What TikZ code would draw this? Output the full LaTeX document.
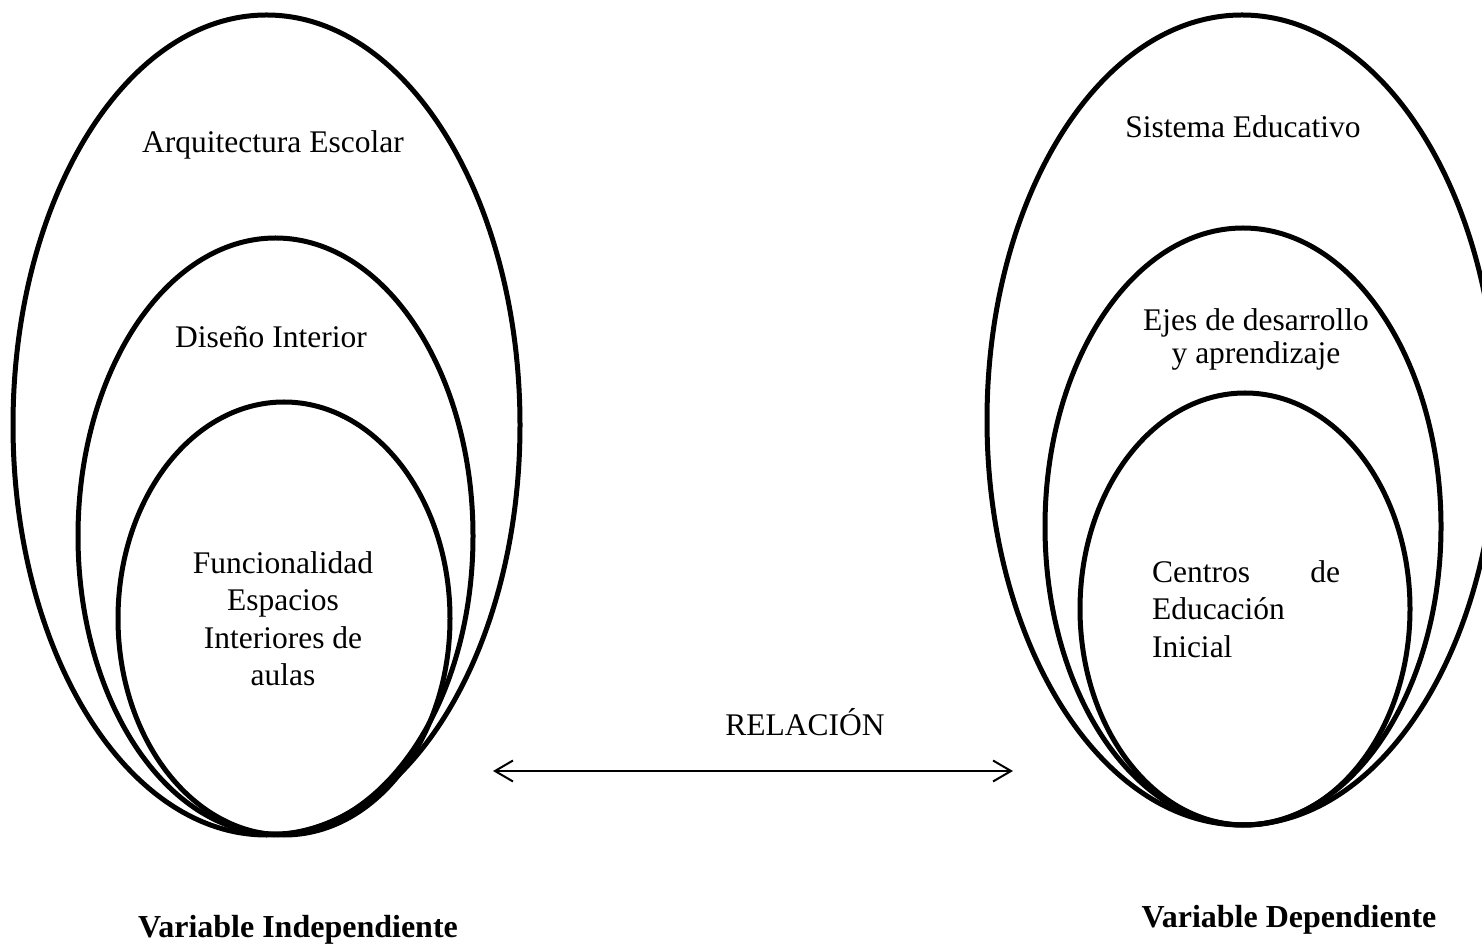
\documentclass[tikz,border=0pt]{standalone}
\usepackage{fontspec}
\setmainfont{Liberation Serif}
\usetikzlibrary{shapes.geometric,arrows.meta}
\begin{document}
\begin{tikzpicture}[x=0.5pt,y=-0.5pt,
  ring/.style={draw=black,line width=2.5pt,ellipse,inner sep=0pt},
  lbl/.style={font=\fontsize{15.75pt}{18.75pt}\selectfont,inner sep=0pt,align=center},
  varlbl/.style={font=\fontsize{16pt}{19pt}\selectfont\bfseries,inner sep=0pt},
  relarrow/.style={line width=1pt,
    {Straight Barb[length=9pt,width=10.5pt]}-{Straight Barb[length=9pt,width=10.5pt]}}]
\useasboundingbox (0,0) rectangle (1482,945);

% independent variable: nested ellipses
\node[ring,minimum width=253.5pt,minimum height=410pt] (arq) at (266.5,425) {};
\node[ring,minimum width=197.5pt,minimum height=298pt] (dis) at (275.5,536) {};
\node[ring,minimum width=166pt,minimum height=216.5pt] (fun) at (284,618.5) {};

\node[lbl,anchor=base] (arqT) at (273,153) {Arquitectura Escolar};
\node[lbl,anchor=base] (disT) at (271,348) {Diseño Interior};
\node[lbl] (funT) at (283,618.5) {Funcionalidad\\Espacios\\Interiores de\\aulas};

% dependent variable: nested ellipses
\node[ring,minimum width=255pt,minimum height=405pt] (sis) at (1242,420) {};
\node[ring,minimum width=198pt,minimum height=298.5pt] (eje) at (1243,526.5) {};
\node[ring,minimum width=165pt,minimum height=216pt] (cen) at (1245,609) {};

\node[lbl,anchor=base] (sisT) at (1243,138) {Sistema Educativo};
\node[lbl,font=\fontsize{15.75pt}{16.5pt}\selectfont] (ejeT) at (1256,339) {Ejes de desarrollo\\y aprendizaje};
\node[lbl,align=left,text width=94pt] (cenT) at (1246,609) {Centros\hfill de\\Educación\\Inicial};

% relation between both variables
\coordinate (aL) at (493,771);
\coordinate (aR) at (1013,771);
\draw[relarrow] (aL) -- (aR);
\node[lbl,anchor=base] (rel) at (805,735) {RELACIÓN};

% captions
\node[varlbl,anchor=base] (vi) at (298,937) {Variable Independiente};
\node[varlbl,anchor=base] (vd) at (1289,927) {Variable Dependiente};
\end{tikzpicture}
\end{document}
